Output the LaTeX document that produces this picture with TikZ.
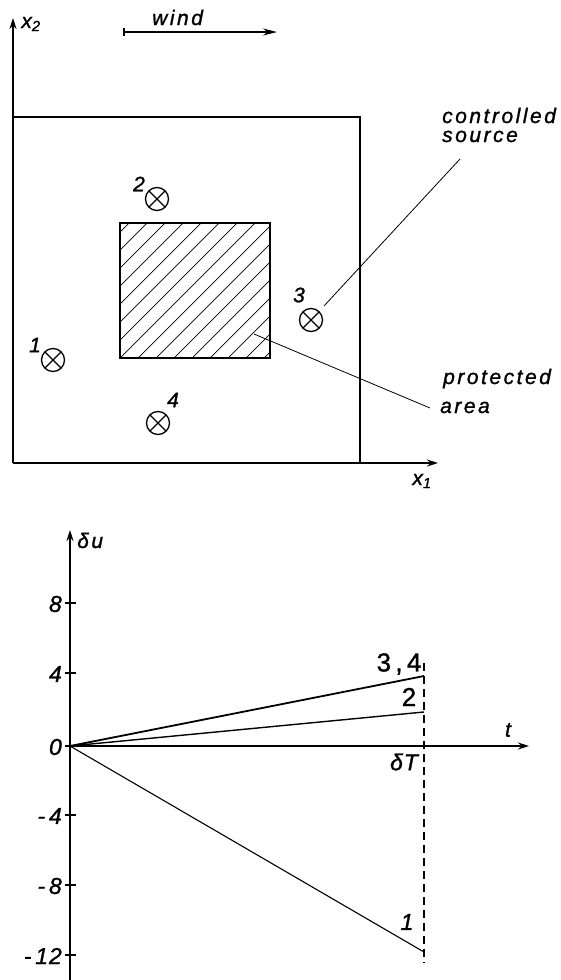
\documentclass[tikz,border=0pt]{standalone}
\usepackage{fontspec}
\setmainfont{Liberation Sans}
\newfontfamily\labfont[LetterSpace=12,FakeBold=1.2]{Liberation Sans}
\newfontfamily\numfont[LetterSpace=4,FakeBold=1.2]{Liberation Sans}
\usetikzlibrary{arrows.meta}
\begin{document}
\begin{tikzpicture}[x=1pt,y=-1pt,
  lab/.style={inner sep=0pt,font=\labfont\itshape\fontsize{21}{21}\selectfont},
  num/.style={inner sep=0pt,font=\numfont\itshape\fontsize{23}{23}\selectfont},
  big/.style={inner sep=0pt,font=\numfont\fontsize{26}{26}\selectfont},
  axis/.style={line width=1.6pt,-{Stealth[length=11pt,width=7pt]}},
  frame/.style={line width=1.6pt},
  src/.style={circle,draw,line width=1.3pt,minimum size=23pt,inner sep=0pt,
    path picture={\draw[line width=1.3pt] (path picture bounding box.north west) -- (path picture bounding box.south east)
      (path picture bounding box.north east) -- (path picture bounding box.south west);}},
  leader/.style={line width=0.8pt},
  tick/.style={line width=1.5pt}]
\useasboundingbox (0,0) rectangle (561,980);
% ---------- top figure ----------
\coordinate (o1) at (13,463);
\coordinate (x2end) at (13,18);
\coordinate (x1end) at (438,463);
\coordinate (tl) at (13,117);
\coordinate (tr) at (360,117);
\coordinate (br) at (360,463);
\draw[axis] (o1) -- (x2end);
\draw[axis] (o1) -- (x1end);
\draw[frame] (tl) -- (tr) -- (br);
\node[lab,anchor=base] (x2lab) at (31,28) {x\textsubscript{2}};
\node[lab,anchor=base] (x1lab) at (422,485) {x\textsubscript{1}};
% wind
\coordinate (w1) at (123,32);
\coordinate (w2) at (277,32);
\draw[line width=1.5pt,{Bar[width=8pt]}-{Stealth[length=14pt,width=7pt]}] (w1) -- (w2);
\node[lab,anchor=base west] (wind) at (152,25) {wind};
% hatched area
\coordinate (ha1) at (120,223);
\coordinate (ha2) at (270,358);
\begin{scope}
\clip (ha1) rectangle (ha2);
\foreach \c in {-144,-126,...,162} {
  \draw[line width=0.7pt] (120+\c,358) -- (255+\c,223);
}
\end{scope}
\draw[line width=1.4pt] (ha1) rectangle (ha2);
% sources
\node[src] (s1) at (53,360) {};
\node[src] (s2) at (157,199) {};
\node[src] (s3) at (311,320) {};
\node[src] (s4) at (158,423) {};
\node[lab] (l1) at (35,345) {1};
\node[lab] (l2) at (139,184) {2};
\node[lab] (l3) at (299,295) {3};
\node[lab] (l4) at (173,400) {4};
% leaders
\coordinate (csend) at (460,159);
\draw[leader,shorten <=7pt] (s3) -- (csend);
\node[lab,anchor=base west] (cs1) at (442,123) {controlled};
\node[lab,anchor=base west] (cs2) at (442,142) {source};
\coordinate (pastart) at (254,334);
\coordinate (paend) at (430,408);
\draw[leader] (pastart) -- (paend);
\node[lab,anchor=base west] (pa1) at (443,384) {protected};
\node[lab,anchor=base west] (pa2) at (440,413) {area};
% ---------- bottom chart ----------
\coordinate (O) at (70,746);
\coordinate (ybot) at (70,980);
\coordinate (ytop) at (70,530);
\coordinate (tend) at (529,746);
\draw[axis] (ybot) -- (ytop);
\draw[axis] (O) -- (tend);
\node[lab,anchor=base west] (du) at (77,548) {δu};
\node[lab] (tlab) at (508,730) {t};
\foreach \v/\y in {8/603,4/673,0/746,-4/815,-8/885,-12/955} {
  \coordinate (tk\y) at (70,\y);
  \draw[tick] ([xshift=-5pt]tk\y) -- ([xshift=6pt]tk\y);
  \node[num,anchor=east] (tl\y) at ([xshift=-8pt,yshift=-1pt]tk\y) {\ifnum\v<0 -\,\the\numexpr-\v\relax\else\v\fi};
}
\coordinate (e34) at (424,676);
\coordinate (e2) at (424,712);
\coordinate (e1) at (424,952);
\coordinate (dTtop) at (424,663);
\coordinate (dTbot) at (424,963);
\draw[line width=1.3pt,dash pattern=on 8pt off 5pt] (dTtop) -- (dTbot);
\draw[line width=1.8pt] (O) -- (e34);
\draw[line width=1.4pt] (O) -- (e2);
\draw[line width=1.1pt] (O) -- (e1);
\node[big] (c34) at (399,664) {3\,,\,4};
\node[big] (c2) at (409,697) {2};
\node[num] (c1) at (407,922) {1};
\node[num] (dT) at (404,762) {δT};
\end{tikzpicture}
\end{document}
